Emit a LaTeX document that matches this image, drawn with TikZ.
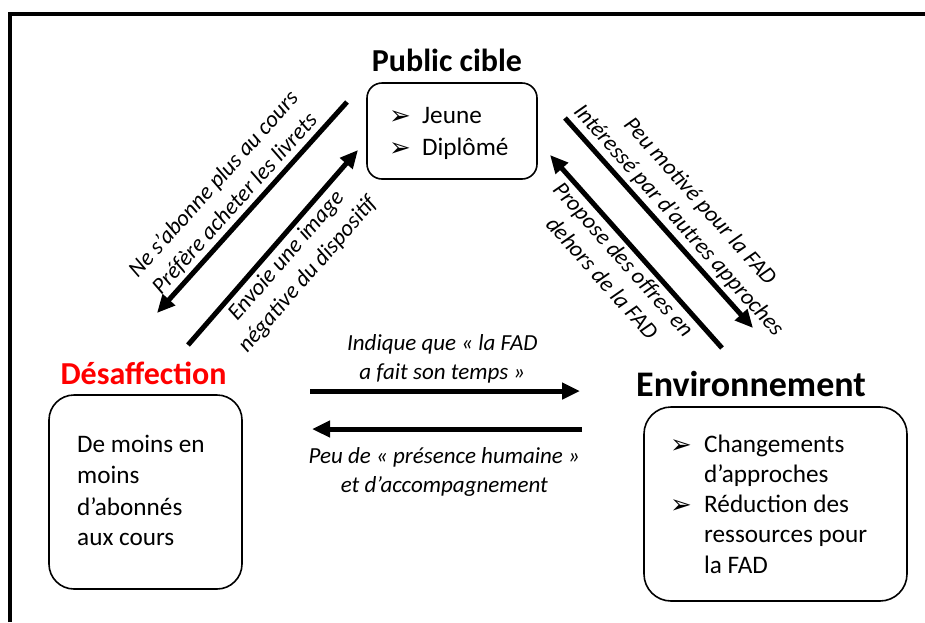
\documentclass[tikz,border=0pt]{standalone}
\usepackage{fontspec}
\setmainfont{Carlito}
\newfontfamily\symfont{DejaVu Sans}
\usetikzlibrary{arrows.meta}
\definecolor{titlered}{RGB}{255,0,0}
\begin{document}
\begin{tikzpicture}[x=1pt,y=-1pt,
  box/.style={draw, line width=1.6pt, inner sep=0pt},
  title/.style={font=\fontsize{32}{38}\selectfont\bfseries, anchor=base, inner sep=0pt},
  body/.style={font=\fontsize{25.2}{30}\selectfont, anchor=base west, inner sep=0pt},
  bul/.style={font=\symfont\bfseries\fontsize{26}{28}\selectfont, anchor=base west, inner sep=0pt},
  lab/.style={font=\fontsize{23}{28.5}\selectfont\itshape, align=center, inner sep=3.5pt},
  conn/.style={line width=5pt, -{Triangle[length=18pt,width=16pt]}}]
\useasboundingbox (0,0) rectangle (925,622);
\fill[white] (0,0) rectangle (925,622);
\draw[line width=4pt, miter limit=10] (10,622) -- (10,14) -- (926,14);

% Public cible
\node[title] (pctitle) at (447,71) {Public cible};
\node[box, rounded corners=15pt, minimum width=170pt, minimum height=96pt] (pcbox) at (452,131) {};
\node[bul] (pcb1) at (389,124) {➢};
\node[body] (pct1) at (422,123) {Jeune};
\node[bul] (pcb2) at (389,156) {➢};
\node[body] (pct2) at (422,155) {Diplômé};

% Désaffection
\node[title, text=titlered] (destitle) at (143.5,384) {Désaffection};
\node[box, rounded corners=25pt, minimum width=193pt, minimum height=194pt] (desbox) at (145.5,492) {};
\node[body] (dest1) at (77,452) {De moins en};
\node[body] (dest2) at (77,483) {moins};
\node[body] (dest3) at (77,515) {d’abonnés};
\node[body] (dest4) at (77,545) {aux cours};

% Environnement
\node[title, font=\fontsize{36}{42}\selectfont\bfseries] (envtitle) at (751,396) {Environnement};
\node[box, rounded corners=27pt, minimum width=263pt, minimum height=194pt] (envbox) at (775.5,504) {};
\node[bul] (envb1) at (670,453) {➢};
\node[body] (envt1) at (704,452) {Changements};
\node[body] (envt2) at (704,482) {d’approches};
\node[bul] (envb2) at (670,513) {➢};
\node[body] (envt3) at (704,512) {Réduction des};
\node[body] (envt4) at (704,542) {ressources pour};
\node[body] (envt5) at (704,573) {la FAD};

% arrow end points
\coordinate (a1s) at (347,102);
\coordinate (a1e) at (157,313);
\coordinate (a2s) at (188,345);
\coordinate (a2e) at (358,150);
\coordinate (a3s) at (565,118);
\coordinate (a3e) at (753,328);
\coordinate (a4s) at (722,348);
\coordinate (a4e) at (550,155);
\coordinate (a5s) at (310,391);
\coordinate (a5e) at (580,391);
\coordinate (a6s) at (582,429);
\coordinate (a6e) at (312,429);

\draw[conn] (a1s) -- node[lab, sloped, above, pos=.53] (l1) {Ne s’abonne plus au cours\\Préfère acheter les livrets} (a1e);
\draw[conn] (a2s) -- node[lab, sloped, below, pos=.51] (l2) {Envoie une image\\négative du dispositif} (a2e);
\draw[conn] (a3s) -- node[lab, sloped, above, pos=.54] (l3) {Peu motivé pour la FAD\\Intéressé par d’autres approches} (a3e);
\draw[conn] (a4s) -- node[lab, sloped, below, pos=.51] (l4) {Propose des offres en\\dehors de la FAD} (a4e);
\draw[conn] (a5s) -- node[lab, pos=.49, yshift=32pt] (l5) {Indique que « la FAD\\a fait son temps »} (a5e);
\draw[conn] (a6s) -- node[lab, pos=.51, yshift=-43pt] (l6) {Peu de « présence humaine »\\et d’accompagnement} (a6e);
\end{tikzpicture}
\end{document}
